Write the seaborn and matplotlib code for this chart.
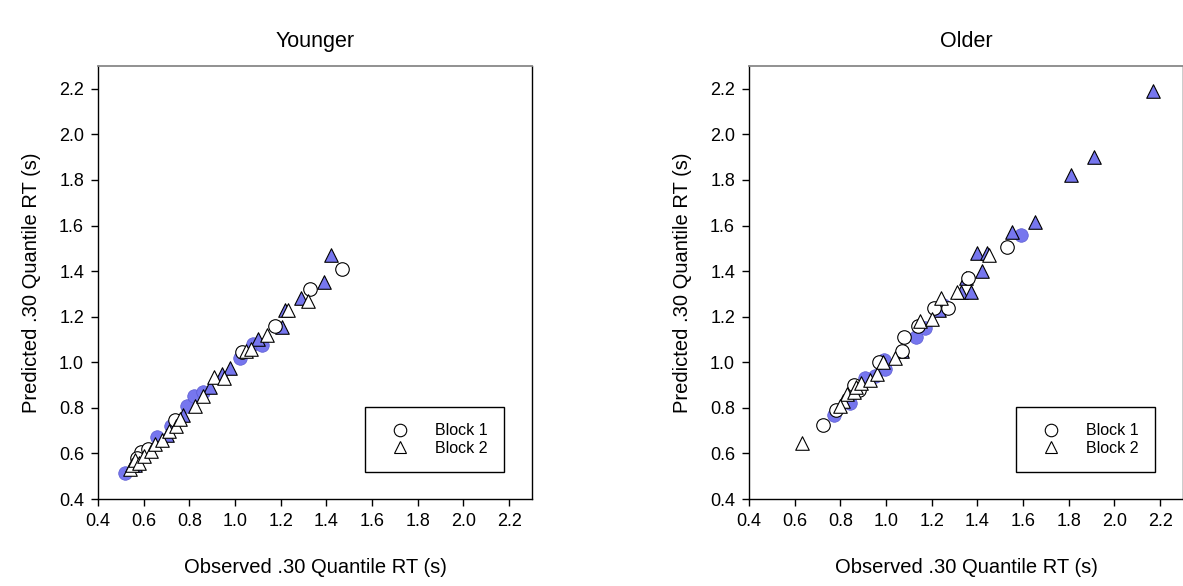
import matplotlib
matplotlib.use("Agg")
import matplotlib.pyplot as plt
import seaborn as sns
import pandas as pd
from matplotlib.lines import Line2D

# ---------------- data ----------------
# Younger
y_b1_open_x = [0.59, 0.737, 1.03, 1.175, 1.33, 1.47, 0.62, 0.57]
y_b1_open_y = [0.606, 0.746, 1.045, 1.16, 1.32, 1.41, 0.62, 0.58]
y_b1_fill_x = [0.518, 0.79, 0.82, 0.86, 1.02, 1.08, 1.12, 0.72, 0.66]
y_b1_fill_y = [0.514, 0.81, 0.85, 0.87, 1.02, 1.08, 1.075, 0.72, 0.67]
y_b2_open_x = [0.54, 0.55, 0.56, 0.58, 0.60, 0.63, 0.65, 0.68, 0.71, 0.74, 0.76,
               0.825, 0.86, 0.91, 1.05, 1.14, 1.23, 1.32, 0.95, 1.07]
y_b2_open_y = [0.53, 0.55, 0.57, 0.56, 0.59, 0.61, 0.64, 0.66, 0.70, 0.72, 0.75,
               0.81, 0.85, 0.935, 1.05, 1.12, 1.23, 1.27, 0.93, 1.06]
y_b2_fill_x = [0.56, 0.70, 0.77, 0.89, 0.945, 0.98, 1.10, 1.205, 1.22, 1.29, 1.39, 1.42]
y_b2_fill_y = [0.55, 0.68, 0.77, 0.89, 0.95, 0.975, 1.10, 1.155, 1.23, 1.28, 1.35, 1.47]

# Older
o_b1_open_x = [0.725, 0.78, 0.97, 1.08, 1.07, 1.14, 1.21, 1.27, 1.36, 1.53, 0.88, 0.86]
o_b1_open_y = [0.725, 0.79, 1.00, 1.11, 1.05, 1.16, 1.24, 1.24, 1.37, 1.505, 0.88, 0.90]
o_b1_fill_x = [0.77, 0.91, 0.99, 0.995, 1.13, 1.17, 1.59, 0.84, 0.95, 1.25]
o_b1_fill_y = [0.77, 0.93, 1.01, 0.97, 1.11, 1.15, 1.56, 0.82, 0.94, 1.25]
o_b2_open_x = [0.63, 0.81, 0.83, 0.86, 0.87, 0.89, 0.93, 0.96, 0.985, 1.04,
               1.15, 1.20, 1.24, 1.31, 1.45, 0.80]
o_b2_open_y = [0.645, 0.83, 0.86, 0.87, 0.89, 0.91, 0.92, 0.95, 1.00, 1.02,
               1.18, 1.19, 1.28, 1.31, 1.47, 0.81]
o_b2_fill_x = [1.07, 1.23, 1.33, 1.37, 1.35, 1.42, 1.40, 1.44, 1.55, 1.65,
               1.81, 1.91, 2.17]
o_b2_fill_y = [1.05, 1.23, 1.31, 1.31, 1.37, 1.40, 1.48, 1.48, 1.57, 1.615,
               1.82, 1.90, 2.19]

ticks = [0.4, 0.6, 0.8, 1.0, 1.2, 1.4, 1.6, 1.8, 2.0, 2.2]
tick_labels = ["0.4", "0.6", "0.8", "1.0", "1.2", "1.4", "1.6", "1.8", "2.0", "2.2"]
titles = ["Younger", "Older"]
xlabel = "Observed .30 Quantile RT (s)"
ylabel = "Predicted .30 Quantile RT (s)"
legend_labels = ["Block 1", "Block 2"]

FILL = "#7676EE"

sns.set_theme(style="white")
plt.rcParams["font.family"] = ["Liberation Sans", "DejaVu Sans"]
plt.rcParams["text.color"] = "black"
plt.rcParams["axes.labelcolor"] = "black"

fig = plt.figure(figsize=(11.83, 5.86), dpi=100)
ax_l = fig.add_axes([98 / 1183, 87 / 586, 434 / 1183, 433 / 586])
ax_r = fig.add_axes([749 / 1183, 87 / 586, 434 / 1183, 433 / 586])

panels = [
    (ax_l, (y_b1_fill_x, y_b1_fill_y), (y_b2_fill_x, y_b2_fill_y),
     (y_b1_open_x, y_b1_open_y), (y_b2_open_x, y_b2_open_y)),
    (ax_r, (o_b1_fill_x, o_b1_fill_y), (o_b2_fill_x, o_b2_fill_y),
     (o_b1_open_x, o_b1_open_y), (o_b2_open_x, o_b2_open_y)),
]

for i, (ax, b1f, b2f, b1o, b2o) in enumerate(panels):
    sns.scatterplot(x=b1f[0], y=b1f[1], ax=ax, marker="o", s=95, color=FILL,
                    edgecolor="#5a5ad0", linewidth=0.5, zorder=3)
    sns.scatterplot(x=b2f[0], y=b2f[1], ax=ax, marker="^", s=95, color=FILL,
                    edgecolor="black", linewidth=0.8, zorder=3)
    sns.scatterplot(x=b1o[0], y=b1o[1], ax=ax, marker="o", s=95, color="white",
                    edgecolor="black", linewidth=0.8, zorder=4)
    sns.scatterplot(x=b2o[0], y=b2o[1], ax=ax, marker="^", s=95, color="white",
                    edgecolor="black", linewidth=0.8, zorder=4)

    ax.set_xlim(0.4, 2.3)
    ax.set_ylim(0.4, 2.3)
    ax.set_xticks(ticks)
    ax.set_xticklabels(tick_labels)
    ax.set_yticks(ticks)
    ax.set_yticklabels(tick_labels)
    ax.tick_params(axis="both", which="major", direction="out", length=5,
                   width=1, color="black", labelsize=13, pad=5,
                   left=True, bottom=True, top=False, right=False,
                   labelcolor="black")
    for side in ["left", "bottom", "right"]:
        ax.spines[side].set_color("black")
        ax.spines[side].set_linewidth(1.0)
        ax.spines[side].set_visible(True)
    ax.spines["top"].set_color("#888888")
    ax.spines["top"].set_linewidth(1.3)
    ax.spines["top"].set_visible(True)

    ax.set_title(titles[i], fontsize=15.5, pad=14, color="black")
    ax.set_xlabel(xlabel, fontsize=14.5, labelpad=20)
    ax.set_ylabel(ylabel, fontsize=14.5, labelpad=13)
    ax.grid(False)

    handles = [
        Line2D([], [], marker="o", linestyle="none", markersize=9,
               markerfacecolor="white", markeredgecolor="black", markeredgewidth=0.8),
        Line2D([], [], marker="^", linestyle="none", markersize=9,
               markerfacecolor="white", markeredgecolor="black", markeredgewidth=0.8),
    ]
    leg = ax.legend(handles, legend_labels, loc="lower right",
                    bbox_to_anchor=(0.935, 0.063), fontsize=11.5,
                    frameon=True, fancybox=False, shadow=False,
                    borderpad=1.0, handletextpad=1.0, labelspacing=0.15,
                    borderaxespad=0, handlelength=2.4)
    leg.get_frame().set_edgecolor("black")
    leg.get_frame().set_linewidth(1.0)
    leg.get_frame().set_facecolor("white")
    leg.get_frame().set_alpha(1.0)

fig.savefig("out.png", dpi=100)
